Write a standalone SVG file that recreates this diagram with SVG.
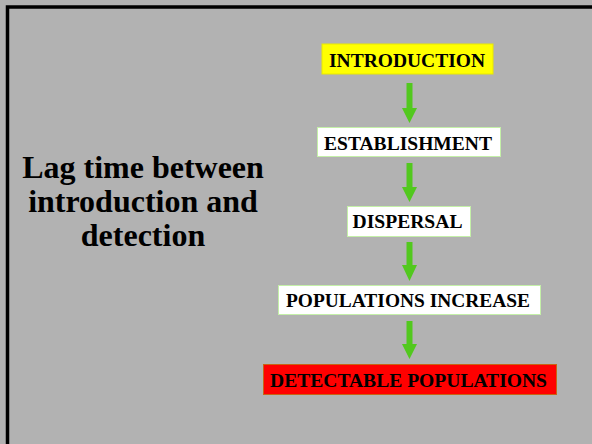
<svg xmlns="http://www.w3.org/2000/svg" width="592" height="444" viewBox="0 0 592 444">
<style>
.lbl{font-family:"Liberation Serif","Times New Roman",serif;font-weight:bold;font-size:19px;fill:#000;text-anchor:middle}
.big{font-family:"Liberation Serif","Times New Roman",serif;font-weight:bold;font-size:32px;fill:#000;text-anchor:middle}
.wbox{fill:#ffffff;stroke:#c4f0a8;stroke-width:1}
.arr{fill:#52c81e}
</style>
<rect x="0" y="0" width="592" height="444" fill="#b2b2b2"/>
<rect x="7.5" y="7" width="620" height="460" fill="none" stroke="#000" stroke-width="3.5"/>
<g id="title">
<text class="big" x="143" y="178">Lag time between</text>
<text class="big" x="143" y="212">introduction and</text>
<text class="big" x="143" y="246">detection</text>
</g>
<g id="connectors">
<polygon class="arr" points="406.5,83 412.5,83 412.5,108 417,108 409.5,123 402,108 406.5,108"/>
<polygon class="arr" points="406.5,163 412.5,163 412.5,187 417,187 409.5,202 402,187 406.5,187"/>
<polygon class="arr" points="406.5,242 412.5,242 412.5,265 417,265 409.5,281 402,265 406.5,265"/>
<polygon class="arr" points="406.5,321 412.5,321 412.5,344 417,344 409.5,359 402,344 406.5,344"/>
</g>
<g id="introduction">
<rect x="322" y="44" width="171" height="30" fill="#ffff00" stroke="#e8e800" stroke-width="1"/>
<text class="lbl" x="407" y="67" textLength="156" lengthAdjust="spacingAndGlyphs">INTRODUCTION</text>
</g>
<g id="establishment">
<rect class="wbox" x="317.5" y="127.5" width="183" height="29"/>
<text class="lbl" x="408" y="150" textLength="168" lengthAdjust="spacingAndGlyphs">ESTABLISHMENT</text>
</g>
<g id="dispersal">
<rect class="wbox" x="347.5" y="206.5" width="123" height="30"/>
<text class="lbl" x="407.5" y="228" textLength="110" lengthAdjust="spacingAndGlyphs">DISPERSAL</text>
</g>
<g id="populations-increase">
<rect class="wbox" x="278.5" y="285.5" width="262" height="29"/>
<text class="lbl" x="408" y="307" textLength="244" lengthAdjust="spacingAndGlyphs">POPULATIONS INCREASE</text>
</g>
<g id="detectable-populations">
<rect x="263.5" y="364.5" width="293" height="30" fill="#ff0000" stroke="#c86414" stroke-width="1"/>
<text class="lbl" x="408.5" y="387" textLength="277" lengthAdjust="spacingAndGlyphs">DETECTABLE POPULATIONS</text>
</g>
</svg>
